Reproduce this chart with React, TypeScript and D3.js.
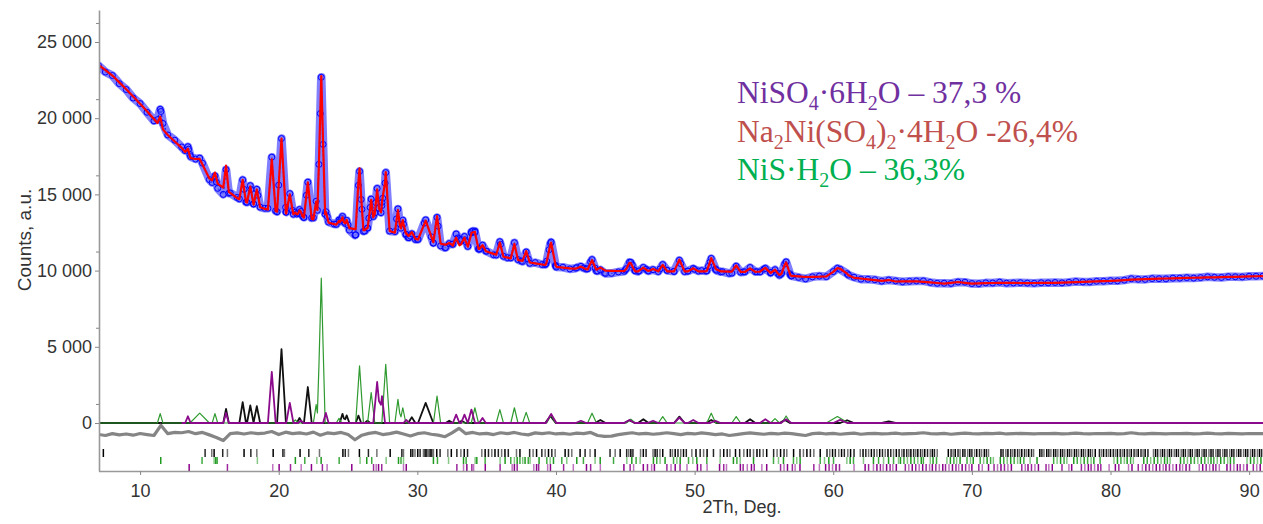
import React, { useEffect, useRef } from "react";
import * as d3 from "d3";

// axis ticks
const xTicks = [10, 20, 30, 40, 50, 60, 70, 80, 90];
const yTicks = [0, 5000, 10000, 15000, 20000, 25000];
const yMinorTicks = [1250, 6250, 11250, 16250, 21250, 26250];

// background under the pattern (2Th, counts)
const bgAngles = [7, 8, 9, 10, 11, 12, 13, 14, 15, 16, 17, 18, 19, 20, 21, 22, 23, 24, 25, 26, 27, 28, 29, 30, 31, 32, 33, 34, 35, 36, 37, 38, 39, 40, 41, 42, 43, 44, 46, 48, 50, 52, 54, 55, 56, 58, 59, 60, 62, 64, 66, 68, 69, 70, 72, 74, 76, 78, 80, 82, 84, 86, 88, 91];
const bgCounts = [23500, 22800, 21900, 20950, 19950, 18900, 18050, 16950, 16050, 15450, 14750, 14350, 14050, 13850, 13650, 13450, 13280, 13050, 12800, 12650, 12650, 12600, 12300, 12050, 11900, 11700, 11600, 11550, 11250, 10950, 10750, 10550, 10400, 10250, 10150, 10100, 10000, 9980, 9950, 9950, 9950, 9950, 9900, 9950, 9720, 9580, 9600, 9650, 9480, 9280, 9300, 9150, 9250, 9150, 9200, 9180, 9200, 9260, 9320, 9430, 9480, 9530, 9570, 9640];

// phase peaks: [2Th, height, half width]
const nisPeaks = [ // NiS·H2O (green)
  [11.45, 620, 0.2], [14.3, 650, 0.7], [15.4, 620, 0.2], [21.2, 200, 0.2], [22.7, 1200, 0.2],
  [23.07, 9500, 0.28], [24.35, 300, 0.2], [25.83, 3750, 0.28], [26.67, 2000, 0.26], [27.72, 3850, 0.28],
  [28.6, 1550, 0.22], [28.95, 1000, 0.22], [31.42, 1760, 0.26], [34.15, 1000, 0.26], [35.95, 880, 0.26],
  [37.0, 1000, 0.26], [37.85, 700, 0.26], [39.65, 530, 0.32], [42.6, 640, 0.32], [45.4, 250, 0.32],
  [47.7, 420, 0.32], [51.2, 640, 0.32], [53.0, 420, 0.32], [55.8, 290, 0.32], [56.6, 460, 0.32], [60.3, 420, 0.8],
];
const naniPeaks = [ // Na2Ni(SO4)2·4H2O (black)
  [16.2, 925, 0.2], [17.4, 1370, 0.24], [17.95, 1150, 0.24], [18.42, 1100, 0.24], [20.2, 4850, 0.32],
  [21.5, 330, 0.2], [22.1, 2360, 0.28], [24.6, 600, 0.2], [24.9, 500, 0.2], [25.75, 480, 0.2],
  [26.4, 150, 0.2], [29.6, 380, 0.26], [30.6, 1320, 0.55], [32.3, 150, 0.26], [33.2, 150, 0.26],
  [39.6, 460, 0.38], [43.2, 200, 0.38], [45.3, 180, 0.38], [46.3, 250, 0.38], [48.9, 420, 0.38],
  [51.2, 200, 0.38], [54.0, 250, 0.38], [56.5, 200, 0.38], [61.0, 180, 0.5], [64.0, 100, 0.5],
];
const nisoPeaks = [ // NiSO4·6H2O (purple)
  [13.45, 440, 0.2], [16.2, 660, 0.2], [19.5, 3350, 0.28], [20.8, 1320, 0.26], [21.6, 150, 0.2],
  [23.4, 660, 0.2], [27.1, 2690, 0.28], [27.45, 1760, 0.22], [29.2, 200, 0.2], [32.8, 550, 0.24],
  [33.4, 550, 0.24], [33.9, 880, 0.26], [34.7, 330, 0.24], [39.65, 600, 0.38], [41.8, 150, 0.38],
  [45.3, 200, 0.38], [47.0, 150, 0.38], [48.9, 350, 0.38], [49.9, 200, 0.38], [51.5, 150, 0.38],
  [55.1, 250, 0.38], [56.6, 250, 0.38], [60.5, 200, 0.5],
];

// difference curve, every 0.5 deg from 7 to 91
const diffStart = 7;
const diffStep = 0.5;
const diffZero = -700;
const diffCounts = [
  -750, -820, -700, -780, -720, -800, -690, -760, -820, -150, -700, -620, -640, -560, -700, -620, -780, -950, -1150, -700,
  -650, -720, -640, -700, -660, -560, -760, -600, -700, -650, -720, -600, -800, -650, -700, -620, -760, -1100, -800, -680,
  -620, -760, -700, -600, -720, -850, -700, -640, -740, -800, -900, -650, -350, -700, -620, -720, -680, -760, -640, -700,
  -620, -720, -780, -650, -700, -640, -720, -680, -740, -660, -700, -620, -820, -880, -860, -760, -700, -640, -720, -680,
  -740, -700, -640, -700, -760, -680, -720, -650, -700, -760, -720, -820, -760, -700, -650, -700, -740, -680, -720, -660,
  -700, -760, -820, -700, -660, -720, -680, -740, -700, -660, -740, -700, -680, -720, -700, -660, -720, -700, -680, -640,
  -700, -720, -680, -740, -700, -660, -700, -720, -680, -700, -660, -720, -700, -680, -700, -720, -690, -700, -680, -720,
  -700, -660, -700, -720, -690, -700, -680, -720, -700, -640, -700, -720, -680, -700, -720, -690, -700, -680, -720, -700,
  -660, -700, -720, -680, -700, -720, -690, -700, -700,
];

// reflection positions (2Th)
const naniTicks = [7.35, 14.69, 15.17, 15.34, 15.96, 16.3, 17.5, 17.99, 18.42, 19.6, 20.3, 20.41, 21.54, 22.17, 22.94, 24.63, 24.8, 25.03, 25.82, 26.47, 27.08, 28.04, 28.88, 29.0, 29.53, 29.67, 29.83, 30.03, 30.2, 30.44, 30.56, 30.68, 30.8, 30.92, 31.04, 31.16, 31.4, 31.64, 32.2, 32.45, 32.85, 33.14, 33.38, 33.62, 34.65, 34.89, 35.13, 35.37, 35.6, 35.84, 36.08, 36.32, 36.56, 37.15, 37.4, 38.1, 38.35, 38.6, 38.98, 39.22, 39.46, 39.7, 39.94, 40.66, 40.9, 41.14, 41.74, 42.1, 42.46, 42.82, 43.9, 44.27, 44.63, 45.1, 45.25, 45.4, 45.55, 46.1, 46.3, 46.5, 47.0, 47.15, 47.3, 47.5, 47.7, 48.25, 48.4, 48.6, 48.8, 49.0, 49.2, 49.4, 49.8, 50.1, 50.4, 50.65, 50.9, 51.36, 51.85, 52.1, 52.35, 52.55, 52.95, 53.25, 53.55, 53.8, 54.0, 54.25, 54.5, 54.7, 54.95, 55.2, 55.7, 55.95, 56.2, 56.45, 56.65, 57.14, 57.6, 57.85, 58.1, 58.35, 58.6, 59.06, 59.55, 59.75, 59.95, 60.15, 60.4, 60.6, 60.8, 61.05, 61.25, 61.5, 61.95, 62.15, 62.35, 62.55, 62.75, 62.95, 63.15, 63.35, 63.55, 63.75, 63.95, 64.15, 64.35, 64.55, 64.75, 64.95, 65.1, 65.3, 65.45, 65.6, 65.8, 65.95, 66.1, 66.3, 66.45, 66.6, 66.8, 67.0, 67.15, 67.3, 67.5, 68.3, 68.5, 68.65, 68.8, 69.0, 69.15, 69.35, 69.5, 69.7, 69.85, 70.0, 70.2, 70.35, 70.55, 70.7, 70.9, 71.05, 71.2, 72.1, 72.25, 72.45, 72.6, 72.8, 72.95, 73.1, 73.3, 73.45, 73.6, 73.8, 73.95, 74.1, 74.3, 74.45, 74.9, 75.05, 75.2, 75.4, 75.55, 75.7, 75.9, 76.05, 76.2, 76.4, 76.55, 76.7, 76.9, 77.05, 77.2, 77.4, 77.55, 77.7, 77.9, 78.05, 78.2, 78.4, 78.55, 78.7, 78.9, 79.2, 79.35, 79.5, 79.7, 79.85, 80.0, 80.2, 80.35, 80.5, 80.7, 80.85, 81.0, 81.2, 81.35, 81.5, 81.7, 81.85, 82.0, 82.2, 82.35, 82.5, 82.7, 83.1, 83.25, 83.4, 83.6, 83.75, 83.9, 84.1, 84.25, 84.4, 84.6, 84.75, 84.9, 85.1, 85.25, 85.4, 85.6, 85.75, 85.9, 86.1, 86.25, 86.4, 86.6, 86.75, 86.9, 87.1, 87.25, 87.4, 87.6, 87.75, 87.9, 88.1, 88.25, 88.4, 88.6, 88.75, 88.9, 89.1, 89.25, 89.4, 89.6, 89.75, 89.9, 90.1, 90.25, 90.4, 90.6, 90.75, 90.9];
const nisTicks = [11.49, 14.47, 15.34, 15.46, 15.56, 18.46, 21.2, 21.88, 22.75, 23.06, 24.36, 25.87, 26.35, 26.71, 27.75, 28.64, 28.82, 29.0, 31.16, 31.45, 32.25, 33.33, 33.52, 34.17, 34.29, 34.89, 35.97, 36.33, 36.74, 37.0, 37.2, 37.4, 37.6, 37.77, 38.0, 38.13, 38.78, 39.34, 39.58, 39.82, 40.42, 40.78, 41.5, 41.98, 42.82, 43.19, 44.15, 45.11, 45.47, 45.78, 46.07, 47.03, 47.27, 47.51, 47.87, 48.48, 48.72, 48.96, 49.56, 49.87, 50.16, 50.88, 51.84, 52.8, 53.05, 53.29, 54.25, 55.69, 56.05, 56.41, 57.13, 57.37, 57.61, 59.06, 59.37, 59.68, 60.02, 60.98, 61.22, 61.46, 62.18, 62.9, 63.27, 63.63, 63.99, 64.35, 64.71, 64.85, 65.1, 65.35, 65.6, 65.85, 66.1, 66.35, 66.5, 67.0, 67.2, 67.45, 68.2, 68.45, 68.7, 68.9, 69.15, 69.65, 69.9, 70.1, 70.6, 70.85, 71.1, 71.35, 71.55, 72.05, 72.3, 72.55, 72.8, 73.05, 73.3, 73.5, 73.75, 74.2, 74.7, 75.9, 76.15, 76.4, 76.65, 76.85, 77.35, 77.6, 77.85, 78.1, 78.35, 78.6, 78.8, 79.25, 80.25, 80.5, 80.75, 81.0, 81.2, 81.45, 81.65, 82.4, 82.65, 82.9, 83.15, 83.4, 83.65, 83.9, 84.1, 84.3, 85.05, 85.3, 85.55, 85.8, 86.05, 86.3, 86.55, 86.8, 87.05, 87.25, 87.45, 87.7, 87.95, 88.2, 88.45, 88.65, 88.9, 89.85, 90.1, 90.35, 90.6, 90.85];
const nisoTicks = [13.54, 16.3, 19.57, 20.03, 20.85, 21.62, 22.36, 23.15, 23.49, 25.27, 26.84, 27.03, 27.2, 27.43, 29.0, 29.2, 32.85, 33.33, 33.57, 33.93, 34.06, 34.9, 35.97, 36.84, 37.0, 37.2, 38.4, 38.6, 38.75, 39.4, 39.6, 40.55, 41.25, 42.2, 42.5, 43.2, 44.9, 45.35, 45.6, 46.3, 46.6, 46.9, 47.1, 48.0, 48.3, 48.6, 48.95, 49.45, 50.2, 50.45, 50.9, 51.8, 52.1, 52.3, 53.3, 53.5, 53.8, 54.1, 54.3, 54.85, 55.2, 56.2, 56.45, 56.7, 57.05, 57.25, 57.6, 58.6, 59.0, 59.45, 59.7, 59.95, 60.2, 60.45, 61.5, 62.3, 62.55, 62.9, 63.15, 63.4, 63.6, 63.85, 64.1, 64.3, 64.55, 65.2, 65.45, 65.7, 65.95, 66.2, 66.45, 66.7, 66.95, 67.15, 67.4, 67.65, 67.9, 68.1, 68.35, 68.6, 68.85, 69.05, 69.3, 69.55, 69.8, 70.0, 70.5, 70.75, 71.2, 71.6, 71.85, 72.1, 72.35, 72.6, 72.85, 73.6, 73.85, 74.05, 74.3, 74.55, 74.8, 75.35, 75.55, 75.8, 76.5, 77.0, 77.2, 77.9, 78.15, 78.4, 78.6, 78.85, 79.1, 79.3, 79.9, 80.35, 80.6, 81.3, 81.55, 82.0, 82.3, 82.55, 82.8, 83.05, 83.3, 83.55, 83.8, 84.0, 84.25, 84.5, 84.75, 85.0, 85.2, 85.45, 85.7, 86.4, 86.65, 86.9, 87.15, 87.4, 87.6, 87.85, 88.4, 88.65, 88.9, 89.15, 89.35, 89.6, 89.85, 90.3, 90.55, 90.8];

// legend: text pieces, true = subscript
const legendNiso = [["NiSO", false], ["4", true], ["·6H", false], ["2", true], ["O – 37,3 %", false]];
const legendNani = [["Na", false], ["2", true], ["Ni(SO", false], ["4", true], [")", false], ["2", true], ["·4H", false], ["2", true], ["O -26,4%", false]];
const legendNis = [["NiS·H", false], ["2", true], ["O – 36,3%", false]];

const sans = "'Liberation Sans', Arial, sans-serif";

const phaseAt = (peaks: number[][], t: number) =>
  d3.sum(peaks, ([a, h, w]) => Math.max(0, h * (1 - Math.abs(t - a) / w)));

const breaksOf = (peaks: number[][], from: number) =>
  Array.from(new Set([from, 91, ...peaks.flatMap(([a, , w]) => [a - w, a, a + w])]))
    .filter((t) => t >= from && t <= 91)
    .sort((p, q) => p - q);

const XrdChart = () => {
  const ref = useRef<SVGSVGElement>(null);

  useEffect(() => {
    const width = 1263;
    const svg = d3.select(ref.current);
    svg.selectAll("*").remove();

    const x = d3.scaleLinear().domain([7, 91]).range([98.5, 1263]);
    const y = d3.scaleLinear().domain([-3150, 27100]).range([471, 10]);

    const bg = d3.scaleLinear().domain(bgAngles).range(bgCounts);
    const diffAngles = diffCounts.map((_, i) => diffStart + i * diffStep);
    const diff = d3.scaleLinear().domain(diffAngles).range(diffCounts);

    const nisBreaks = breaksOf(nisPeaks, 7);
    const naniBreaks = breaksOf(naniPeaks, 7);
    const nisoBreaks = breaksOf(nisoPeaks, 13);

    const allT = Array.from(new Set([...nisBreaks, ...naniBreaks, ...nisoBreaks, ...bgAngles, ...diffAngles]))
      .sort((p, q) => p - q);
    const calc = allT.map((t) => [t, bg(t) + phaseAt(nisPeaks, t) + phaseAt(naniPeaks, t) + phaseAt(nisoPeaks, t)]);
    const obs = calc.map(([t, c]) => [t, c + diff(t) - diffZero]);

    const line = d3.line<number[]>().x((d) => x(d[0])).y((d) => y(d[1]));

    svg.append("defs").append("clipPath").attr("id", "plot")
      .append("rect").attr("x", 99).attr("y", 0).attr("width", width - 99).attr("height", 472);

    const plot = svg.append("g").attr("clip-path", "url(#plot)");

    // observed
    plot.append("path").datum(obs).attr("d", line).attr("fill", "none")
      .attr("stroke", "#2a2aff").attr("stroke-width", 8.5).attr("stroke-opacity", 0.6)
      .attr("stroke-linejoin", "round").attr("stroke-linecap", "round");
    plot.append("path").datum(obs).attr("d", line).attr("fill", "none")
      .attr("stroke", "#0000ee").attr("stroke-width", 1.3).attr("stroke-opacity", 0.8)
      .attr("stroke-dasharray", "2 2.5");
    plot.append("g").selectAll("circle").data(obs).join("circle")
      .attr("cx", (d) => x(d[0])).attr("cy", (d) => y(d[1])).attr("r", 3)
      .attr("fill", "#7c7cff").attr("fill-opacity", 0.4)
      .attr("stroke", "#0000ff").attr("stroke-width", 1);

    // calculated
    plot.append("path").datum(calc).attr("d", line).attr("fill", "none")
      .attr("stroke", "#ff0000").attr("stroke-width", 2.2).attr("stroke-linejoin", "round");

    // phases
    const phases = [
      { peaks: naniPeaks, breaks: naniBreaks, color: "#111111", w: 1.8 },
      { peaks: nisPeaks, breaks: nisBreaks, color: "#2f9a2f", w: 1.2 },
      { peaks: nisoPeaks, breaks: nisoBreaks, color: "#8b0a8b", w: 1.8 },
    ];
    phases.forEach((p) => {
      plot.append("path").datum(p.breaks.map((t) => [t, phaseAt(p.peaks, t)]))
        .attr("d", line).attr("fill", "none").attr("stroke", p.color).attr("stroke-width", p.w)
        .attr("stroke-linejoin", "round");
    });

    // difference
    plot.append("path").datum(diffAngles.map((t, i) => [t, diffCounts[i]]))
      .attr("d", line).attr("fill", "none").attr("stroke", "#858585").attr("stroke-width", 3.2)
      .attr("stroke-linejoin", "round");

    // reflection ticks
    const rows = [
      { ticks: naniTicks, color: "#000000", y0: 449, y1: 457 },
      { ticks: nisTicks, color: "#1f9a1f", y0: 457, y1: 464 },
      { ticks: nisoTicks, color: "#8b008b", y0: 464, y1: 471 },
    ];
    rows.forEach((r) => {
      plot.append("g").selectAll("line").data(r.ticks).join("line")
        .attr("x1", (d) => x(d)).attr("x2", (d) => x(d))
        .attr("y1", r.y0).attr("y2", r.y1)
        .attr("stroke", r.color).attr("stroke-width", 1.5)
        .attr("stroke-opacity", (_, i) => (i % 3 === 0 ? 1 : i % 3 === 1 ? 0.85 : 0.55));
    });

    // axes
    const fmt = d3.formatLocale({ decimal: ",", thousands: " ", grouping: [3], currency: ["", ""] }).format(",");

    const yAxis = svg.append("g").attr("transform", "translate(99,0)")
      .call(d3.axisLeft(y).tickValues(yTicks).tickSize(4).tickSizeOuter(0).tickPadding(3).tickFormat((d) => fmt(d as number)));
    svg.append("g").attr("transform", "translate(99,0)")
      .call(d3.axisLeft(y).tickValues(yMinorTicks).tickSize(3).tickFormat(() => ""))
      .call((g) => g.select(".domain").remove());

    const xAxis = svg.append("g").attr("transform", "translate(0,471)")
      .call(d3.axisBottom(x).tickValues(xTicks).tickSize(4).tickSizeOuter(0).tickPadding(9));

    [yAxis, xAxis].forEach((g) => {
      g.attr("font-family", sans).attr("font-size", 18);
      g.selectAll("text").attr("fill", "#333");
    });
    svg.selectAll(".domain").attr("stroke", "#999").attr("stroke-width", 1.6);
    svg.selectAll(".tick line").attr("stroke", "#888");

    svg.append("text").attr("transform", "translate(31,240) rotate(-90)")
      .attr("text-anchor", "middle").attr("font-family", sans).attr("font-size", 19)
      .attr("fill", "#333").text("Counts, a.u.");
    svg.append("text").attr("x", 742).attr("y", 513)
      .attr("text-anchor", "middle").attr("font-family", sans).attr("font-size", 18)
      .attr("fill", "#333").text("2Th, Deg.");

    // legend
    const legend = [
      { parts: legendNiso, color: "#7030a0", y: 103 },
      { parts: legendNani, color: "#c0504d", y: 142 },
      { parts: legendNis, color: "#00b050", y: 180 },
    ];
    legend.forEach((l) => {
      const t = svg.append("text").attr("x", 737).attr("y", l.y)
        .attr("font-family", "'Liberation Serif', 'Times New Roman', serif")
        .attr("font-size", 31.5).attr("fill", l.color);
      let down = false;
      l.parts.forEach(([s, sub]) => {
        const span = t.append("tspan").text(s as string);
        if (sub) {
          span.attr("font-size", 20);
          if (!down) span.attr("dy", 7);
          down = true;
        } else if (down) {
          span.attr("dy", -7);
          down = false;
        }
      });
    });
  }, []);

  return (
    <svg ref={ref} width={1263} height={524}
      style={{ position: "absolute", left: 0, top: 0, background: "#fff" }} />
  );
};

export default function App() {
  return <XrdChart />;
}
